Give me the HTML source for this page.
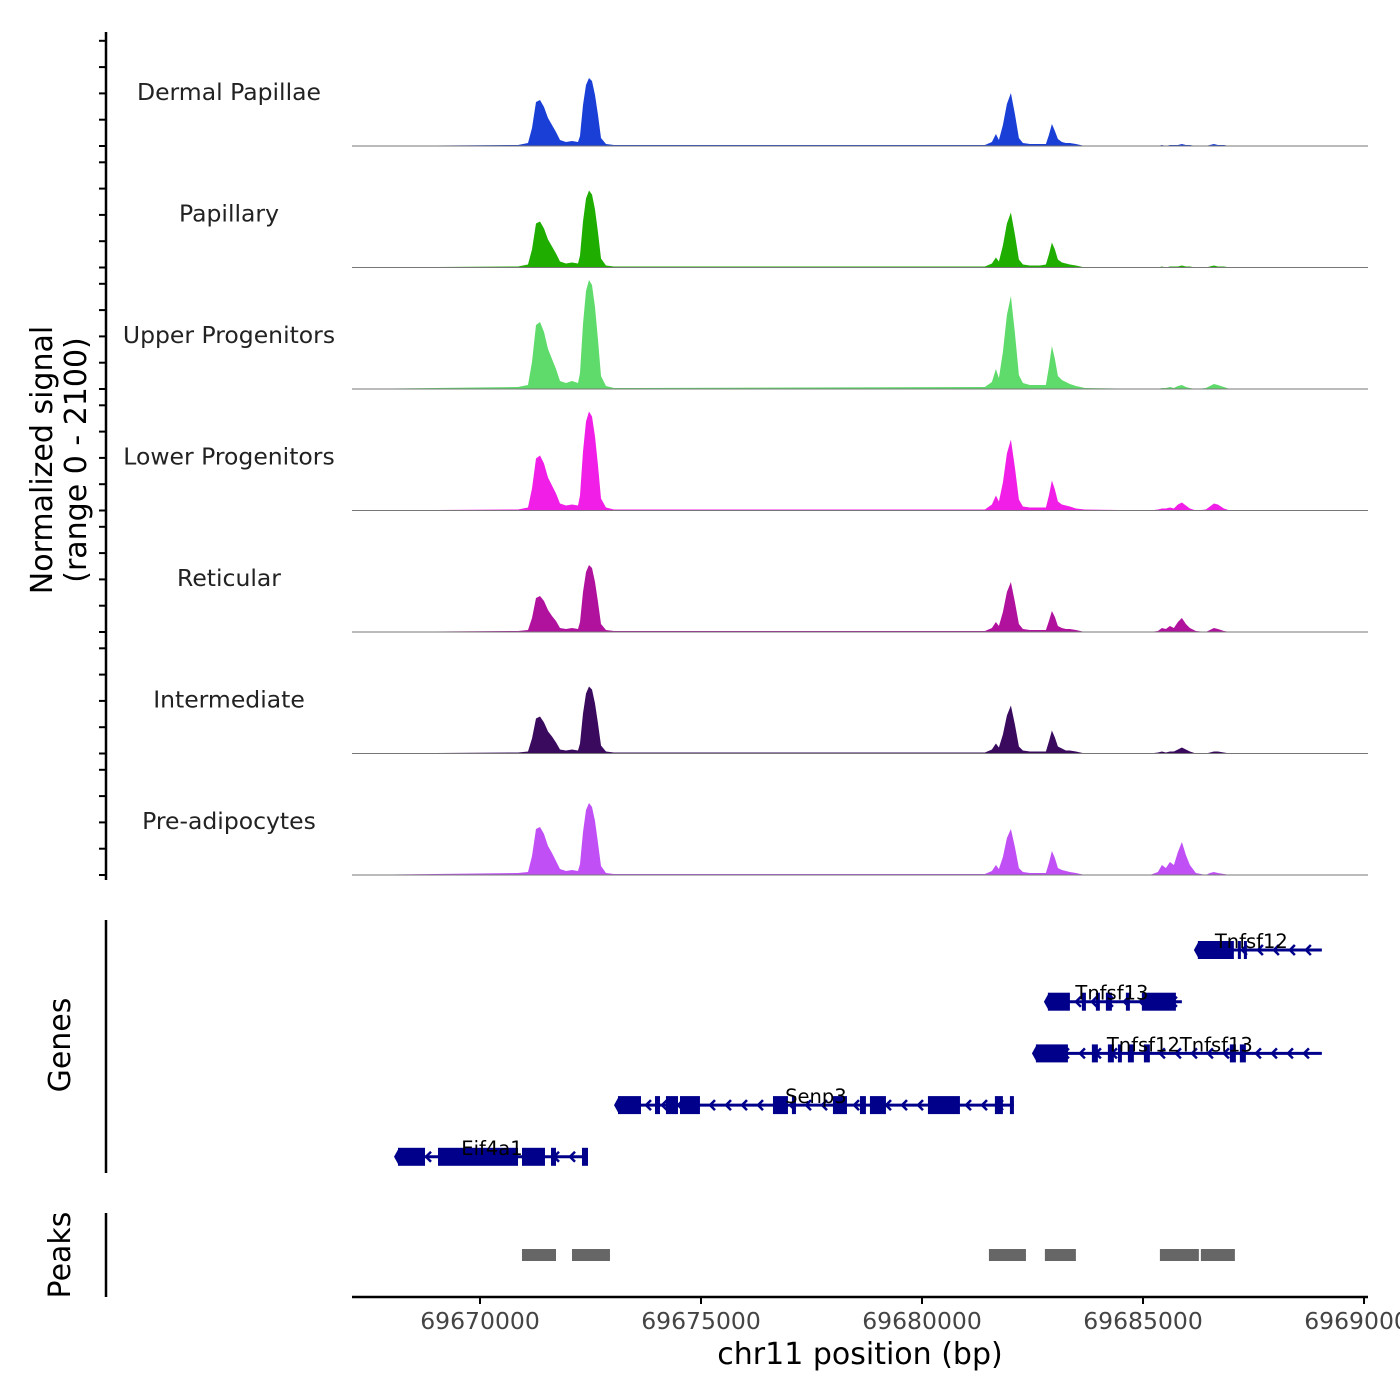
<!DOCTYPE html>
<html><head><meta charset="utf-8"><style>
body{margin:0;background:#fff}
svg{display:block;font-family:"DejaVu Sans","Liberation Sans",sans-serif}
</style></head><body>
<svg id="chart" width="1400" height="1400" viewBox="0 0 1400 1400" xmlns="http://www.w3.org/2000/svg">
<text transform="translate(52,460) rotate(-90)" text-anchor="middle" font-size="30" fill="#000">Normalized signal</text>
<text transform="translate(86,460) rotate(-90)" text-anchor="middle" font-size="30" fill="#000">(range 0 - 2100)</text>
<text transform="translate(70,1045) rotate(-90)" text-anchor="middle" font-size="30" fill="#000">Genes</text>
<text transform="translate(70,1255) rotate(-90)" text-anchor="middle" font-size="30" fill="#000">Peaks</text>
<line x1="106" y1="32" x2="106" y2="880" stroke="#000" stroke-width="2.5"/>
<line x1="106" y1="920" x2="106" y2="1173" stroke="#000" stroke-width="2.5"/>
<line x1="106" y1="1213" x2="106" y2="1297" stroke="#000" stroke-width="2.5"/>
<line x1="352" y1="1297" x2="1368" y2="1297" stroke="#000" stroke-width="2.5"/>
<g id="tracks"></g><g id="genes"></g><g id="peaks"></g><g id="xaxis"></g>
<text x="860" y="1364" text-anchor="middle" font-size="30" fill="#000">chr11 position (bp)</text>
</svg>
<script>
// ---- data ----
const regionStart = 69667104, regionEnd = 69690090;
const trackNames = ["Dermal Papillae","Papillary","Upper Progenitors","Lower Progenitors","Reticular","Intermediate","Pre-adipocytes"];
const trackColors = ["#1a3fd6","#1fae00","#5edb6a","#f01ee6","#b0129e","#3a0a5f","#c050f5"];
const xPx = [352,518,528,532,536,540,544,548,552,556,560,566,572,578,580,583,586,589,592,595,598,601,606,614,985,992,996,999,1003,1007,1011,1015,1019,1023,1030,1040,1046,1049,1052,1055,1058,1062,1066,1070,1076,1085,1150,1158,1162,1166,1170,1174,1178,1182,1186,1190,1196,1206,1210,1214,1218,1224,1230,1368];
const positions = xPx.map(x => Math.round(69670000 + (x-480)*22.62));
const sigDP = [0,1,3,18,44,46,39,28,21,14,6,4,5,4,10,41,61,68,65,51,31,8,2,1,1,4,12,6,21,42,53,32,8,3,2,2,2,11,22,15,7,4,3,3,2,0,0,0,1,0,1,1,1,2,1,1,0,0,1,2,1,1,0,0];
const sigPap = [0,1,3,18,44,46,39,28,21,14,6,4,5,4,12,46,69,77,73,58,35,9,2,1,1,4,10,6,22,44,55,33,8,3,2,2,3,13,25,18,8,5,4,3,2,0,0,0,1,0,1,1,1,2,1,1,0,0,1,2,1,1,0,0];
const sigUP = [0,2,4,27,64,67,57,40,30,20,8,6,8,6,16,65,98,109,104,82,49,13,3,1,2,7,20,11,37,74,93,56,14,6,4,4,4,22,43,30,13,9,7,5,3,1,0,0,1,1,2,1,3,4,2,1,0,1,3,5,4,2,0,0];
const sigLP = [0,1,3,22,52,55,47,33,25,17,7,5,6,5,15,59,89,99,94,74,45,12,3,1,1,6,15,9,28,57,71,43,11,4,3,3,3,15,30,21,9,6,5,4,2,1,0,1,2,2,3,2,6,8,5,2,0,1,4,7,6,2,0,0];
const sigRet = [0,1,2,14,34,36,31,22,16,11,4,3,4,3,10,40,60,67,64,50,30,8,2,1,1,4,10,6,20,40,50,30,8,3,2,2,2,11,21,15,6,4,3,3,2,0,0,1,4,3,6,4,10,14,8,4,1,0,2,4,3,1,0,0];
const sigInt = [0,1,2,15,35,37,31,22,17,11,4,3,4,3,10,40,60,67,64,50,30,8,2,1,1,4,10,6,19,38,48,29,7,3,2,2,2,12,23,16,7,5,3,3,2,0,0,1,2,1,2,2,4,6,4,2,0,0,1,2,2,1,0,0];
const sigPre = [0,2,3,19,46,48,41,29,22,14,6,4,5,4,11,43,65,72,68,54,32,9,2,1,1,4,10,6,18,37,46,28,7,3,2,2,2,12,24,17,7,5,4,3,2,0,0,3,10,7,13,10,23,33,20,10,2,0,2,3,2,1,0,0];
const signals = [sigDP,sigPap,sigUP,sigLP,sigRet,sigInt,sigPre];
const geneNames = ["Tnfsf12","Tnfsf13","Tnfsf12Tnfsf13","Senp3","Eif4a1"];
const geneSpans = [[16241,19046],[12848,15879],[12577,19046],[3122,12079],[-1855,2443]];
const geneExons = [
 [[16241,17055],[17146,17214],[17282,17350]],
 [[12848,13346],[13617,13708],[13934,14024],[14160,14296],[14613,14703],[14974,15744]],
 [[12577,13301],[13843,13979],[14205,14341],[14432,14522],[14658,14793],[15020,15155],[16965,17101],[17191,17327]],
 [[3122,3642],[3959,4072],[4207,4479],[4524,4976],[6628,6967],[7057,7148],[7985,8302],[8596,8731],[8822,9184],[10134,10858],[11649,11830],[11989,12079]],
 [[-1855,-1244],[-950,860],[950,1470],[1606,1719],[2307,2443]]];
const geneLabelPos = [17450,14296,15834,7600,271];
const peakStarts = [950,2081,11514,12780,15382,16309];
const peakEnds = [1742,2963,12374,13504,16286,17101];
const xTicks = [69670000,69675000,69680000,69685000,69690000];
const geneOrigin = 69670000;
// ---- scales ----
const NS="http://www.w3.org/2000/svg";
const X = bp => 352 + (bp-regionStart)/(regionEnd-regionStart)*1016;
const baseY = i => 146 + i*121.5;
const Y = (i,v) => baseY(i) - v;
function mk(t,a,p){const e=document.createElementNS(NS,t);for(const k in a)e.setAttribute(k,a[k]);p.appendChild(e);return e;}
const tg=document.getElementById('tracks');
for(let i=0;i<7;i++){
  for(let k=0;k<5;k++){
    const t=mk('line',{x1:99,x2:106,y1:baseY(i)-k*26.3,y2:baseY(i)-k*26.3,stroke:'#000','stroke-width':2},tg);
    
    
  }
  let d='M'+X(positions[0])+','+baseY(i);
  positions.forEach((p,j)=>{d+=' L'+X(p).toFixed(1)+','+Y(i,signals[i][j]).toFixed(1);});
  d+=' L'+X(positions[positions.length-1])+','+baseY(i)+'Z';
  const a=mk('path',{d:d,fill:trackColors[i]},tg);
  
  
  const b=mk('line',{x1:352,x2:1368,y1:baseY(i),y2:baseY(i),stroke:'#777','stroke-width':1},tg);
  
  
  const l=mk('text',{x:229,y:baseY(i)-46,'text-anchor':'middle','font-size':23.5,fill:'#222'},tg);
  l.textContent=trackNames[i];
  
  
}
const gg=document.getElementById('genes');
const GX = o => X(geneOrigin+o);
for(let g=0;g<geneNames.length;g++){
  const y=950+g*51.7;
  const grp=mk('g',{},gg);
  
  
  const x1=GX(geneSpans[g][0]), x2=GX(geneSpans[g][1]);
  mk('line',{x1:x1,x2:x2,y1:y,y2:y,stroke:'#00008b','stroke-width':3},grp);
  for(let ax=x1+12;ax<x2-6;ax+=16){mk('path',{d:`M${ax+5},${y-5} L${ax},${y} L${ax+5},${y+5}`,fill:'none',stroke:'#00008b','stroke-width':2.5},grp);}
  geneExons[g].forEach(e=>{mk('rect',{x:GX(e[0]),y:y-9,width:Math.max(3,GX(e[1])-GX(e[0])),height:18,fill:'#00008b'},grp);});
  mk('path',{d:`M${x1+1},${y-9} L${x1-4},${y} L${x1+1},${y+9}Z`,fill:'#00008b'},grp);
  const t=mk('text',{x:GX(geneLabelPos[g]),y:y-2,'text-anchor':'middle','font-size':19.5,fill:'#000'},grp);
  t.textContent=geneNames[g];
}
const pg=document.getElementById('peaks');
peakStarts.forEach((s,i)=>{
  const r=mk('rect',{x:GX(s),y:1249,width:GX(peakEnds[i])-GX(s)-1,height:12,fill:'#666'},pg);
  
  
});
const xg=document.getElementById('xaxis');
xTicks.forEach(v=>{
  mk('line',{x1:X(v),x2:X(v),y1:1297,y2:1304,stroke:'#000','stroke-width':2},xg);
  const t=mk('text',{x:X(v),y:1329,'text-anchor':'middle','font-size':23.5,fill:'#444'},xg);
  t.textContent=v;
  
  
});
</script>
</body></html>
